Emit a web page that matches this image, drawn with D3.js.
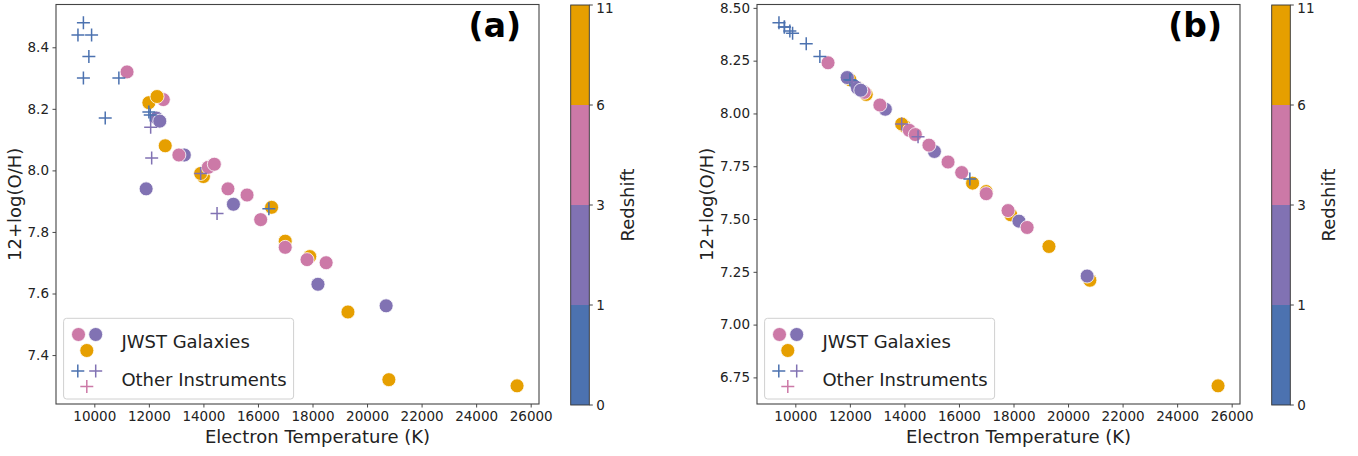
<!DOCTYPE html>
<html>
<head>
<meta charset="utf-8">
<script src="https://cdn.jsdelivr.net/npm/d3@7"></script>
<style>
  html, body { margin: 0; padding: 0; background: #fff; }
  svg { display: block; font-family: "DejaVu Sans", sans-serif; }
</style>
</head>
<body>
<svg id="chart" width="1358" height="456"></svg>
<script>
// ---------------- DATA ----------------
// Redshift bins (colour bar boundaries) and their colours
const zBounds = [0, 1, 3, 6, 11];
const zColors = ["#4C72B0", "#8172B3", "#CC79A7", "#E69F00"];

// JWST galaxies: electron temperature (K), 12+log(O/H) in panel (a) and (b), redshift bin index
const jwstTemp = [25500, 20800, 19300, 17900, 17000, 16500, 14000, 13900, 12600, 12000, 12530, 12300,
                  11900, 12280, 12400, 13300, 15100, 18200, 20700,
                  11200, 13100, 14180, 14400, 14900, 15600, 16100, 17000, 17800, 18500];
const jwstOHa  = [7.30, 7.32, 7.54, 7.72, 7.77, 7.88, 7.98, 7.99, 8.08, 8.22, 8.23, 8.24,
                  7.94, 8.17, 8.16, 8.05, 7.89, 7.63, 7.56,
                  8.32, 8.05, 8.01, 8.02, 7.94, 7.92, 7.84, 7.75, 7.71, 7.70];
const jwstOHb  = [6.71, 7.21, 7.37, 7.52, 7.63, 7.67, 7.94, 7.95, 8.09, 8.16, 8.10, 8.12,
                  8.17, 8.12, 8.11, 8.02, 7.82, 7.49, 7.23,
                  8.24, 8.04, 7.92, 7.90, 7.85, 7.77, 7.72, 7.62, 7.54, 7.46];
const jwstZbin = [3, 3, 3, 3, 3, 3, 3, 3, 3, 3, 2, 3,
                  1, 1, 1, 1, 1, 1, 1,
                  2, 2, 2, 2, 2, 2, 2, 2, 2, 2];

// Other instruments
const otherTemp = [9600, 9400, 9900, 9800, 9600, 10900, 10400, 12000, 12050, 12066, 12103, 13900, 14500, 16400];
const otherOHa  = [8.48, 8.44, 8.44, 8.37, 8.30, 8.30, 8.17, 8.19, 8.18, 8.14, 8.04, 7.99, 7.86, 7.875];
const otherOHb  = [8.41, 8.43, 8.38, 8.39, 8.41, 8.27, 8.33, 8.16, 8.155, 8.15, 8.15, 7.95, 7.89, 7.69];
const otherZbin = [0, 0, 0, 0, 0, 0, 0, 0, 0, 1, 1, 1, 1, 0];

// Tick values / labels
const xTicks  = [10000, 12000, 14000, 16000, 18000, 20000, 22000, 24000, 26000];
const yTicksA = [7.4, 7.6, 7.8, 8.0, 8.2, 8.4];
const yTicksB = [6.75, 7.00, 7.25, 7.50, 7.75, 8.00, 8.25, 8.50];
const panelLabels = ["(a)", "(b)"];
const legendLabels = ["JWST Galaxies", "Other Instruments"];
const xTitle = "Electron Temperature (K)";
const yTitle = "12+log(O/H)";
const cbTitle = "Redshift";

// ---------------- DRAW ----------------
const svg = d3.select("#chart");
const FONT = "DejaVu Sans, sans-serif";
const TICK_FS = 13.5, LABEL_FS = 18, TEXT_COL = "#222";
const color = i => zColors[i];

function padded(vals) {
  const [a, b] = d3.extent(vals);
  const s = b - a;
  return [a - 0.05 * s, b + 0.05 * s];
}

const crossPath = "M-6.5,0H6.5M0,-6.5V6.5";

function drawPanel(off, ohJ, ohO, yTicks, yFmt, label, ylabX) {
  const L = 56 + off, R = 539 + off, T = 4.5, B = 404;
  const x = d3.scaleLinear().domain(padded(jwstTemp.concat(otherTemp))).range([L, R]);
  const y = d3.scaleLinear().domain(padded(ohJ.concat(ohO))).range([B, T]);
  const g = svg.append("g");

  // axes
  const xa = g.append("g").attr("transform", `translate(0,${B})`)
    .call(d3.axisBottom(x).tickValues(xTicks).tickSize(3.5).tickPadding(3.5).tickFormat(d3.format("d")));
  const ya = g.append("g").attr("transform", `translate(${L},0)`)
    .call(d3.axisLeft(y).tickValues(yTicks).tickSize(3.5).tickPadding(3.5).tickFormat(d3.format(yFmt)));
  [xa, ya].forEach(a => {
    a.select(".domain").remove();
    a.selectAll("line").attr("stroke", "#333").attr("stroke-width", 0.9);
    a.selectAll("text").attr("font-family", FONT).attr("font-size", TICK_FS).attr("fill", TEXT_COL);
  });

  // points: circles then crosses
  g.append("g").selectAll("circle").data(jwstTemp).join("circle")
    .attr("cx", (d) => x(d)).attr("cy", (d, i) => y(ohJ[i])).attr("r", 7)
    .attr("fill", (d, i) => color(jwstZbin[i]))
    .attr("stroke", "#fff").attr("stroke-width", 0.8);
  g.append("g").selectAll("path").data(otherTemp).join("path")
    .attr("d", crossPath)
    .attr("transform", (d, i) => `translate(${x(d)},${y(ohO[i])})`)
    .attr("fill", "none").attr("stroke", (d, i) => color(otherZbin[i])).attr("stroke-width", 1.5);

  // frame
  g.append("rect").attr("x", L).attr("y", T).attr("width", R - L).attr("height", B - T)
    .attr("fill", "none").attr("stroke", "#444").attr("stroke-width", 1.1);

  // axis titles
  g.append("text").attr("x", (L + R) / 2 + 20).attr("y", 443).attr("text-anchor", "middle")
    .attr("font-size", LABEL_FS).attr("fill", TEXT_COL).text(xTitle);
  g.append("text").attr("transform", `translate(${ylabX},${(T + B) / 2}) rotate(-90)`)
    .attr("text-anchor", "middle").attr("font-size", LABEL_FS).attr("fill", TEXT_COL).text(yTitle);

  // panel label
  g.append("text").attr("x", 521 + off).attr("y", 37).attr("text-anchor", "end")
    .attr("font-size", 33).attr("font-weight", "bold").attr("fill", "#000").text(label);

  // legend
  const lg = g.append("g");
  lg.append("rect").attr("x", 63.6 + off).attr("y", 318.3).attr("width", 230).attr("height", 80.7)
    .attr("rx", 3).attr("fill", "#fff").attr("fill-opacity", 0.8)
    .attr("stroke", "#d0d0d0").attr("stroke-width", 1);
  const circLeg = [[78.5, 334.5, 2], [95.7, 334.5, 1], [86.8, 350.5, 3]];
  circLeg.forEach(([cx, cy, c]) => lg.append("circle").attr("cx", cx + off).attr("cy", cy).attr("r", 7)
    .attr("fill", color(c)).attr("stroke", "#fff").attr("stroke-width", 0.8));
  const crossLeg = [[77.8, 371, 0], [95.7, 371, 1], [86.8, 386.5, 2]];
  crossLeg.forEach(([cx, cy, c]) => lg.append("path").attr("d", crossPath)
    .attr("transform", `translate(${cx + off},${cy})`).attr("fill", "none")
    .attr("stroke", color(c)).attr("stroke-width", 1.5));
  lg.append("text").attr("x", 121.4 + off).attr("y", 348).attr("font-size", 18).attr("fill", TEXT_COL).text(legendLabels[0]);
  lg.append("text").attr("x", 121.4 + off).attr("y", 386).attr("font-size", 18).attr("fill", TEXT_COL).text(legendLabels[1]);

  // colour bar
  const cbL = 570.7 + off, cbW = 18.6;
  const cb = d3.scaleLinear().domain([0, zBounds.length - 1]).range([405, 5]);
  const cg = g.append("g");
  zColors.forEach((c, i) => cg.append("rect").attr("x", cbL).attr("y", cb(i + 1)).attr("width", cbW)
    .attr("height", cb(i) - cb(i + 1)).attr("fill", c));
  cg.append("rect").attr("x", cbL).attr("y", cb(zBounds.length - 1)).attr("width", cbW)
    .attr("height", cb(0) - cb(zBounds.length - 1)).attr("fill", "none").attr("stroke", "#333").attr("stroke-width", 0.9);
  zBounds.forEach((z, i) => {
    cg.append("line").attr("x1", cbL + cbW).attr("x2", cbL + cbW + 3.5).attr("y1", cb(i)).attr("y2", cb(i))
      .attr("stroke", "#333").attr("stroke-width", 0.9);
    cg.append("text").attr("x", cbL + cbW + 7).attr("y", Math.max(cb(i), 8.5)).attr("dy", "0.36em")
      .attr("font-size", TICK_FS).attr("fill", TEXT_COL).text(z);
  });
  cg.append("text").attr("transform", `translate(${634 + off},205) rotate(-90)`)
    .attr("text-anchor", "middle").attr("font-size", LABEL_FS).attr("fill", TEXT_COL).text(cbTitle);
}

drawPanel(0, jwstOHa, otherOHa, yTicksA, ".1f", panelLabels[0], 21);
drawPanel(701, jwstOHb, otherOHb, yTicksB, ".2f", panelLabels[1], 713);
</script>
</body>
</html>
